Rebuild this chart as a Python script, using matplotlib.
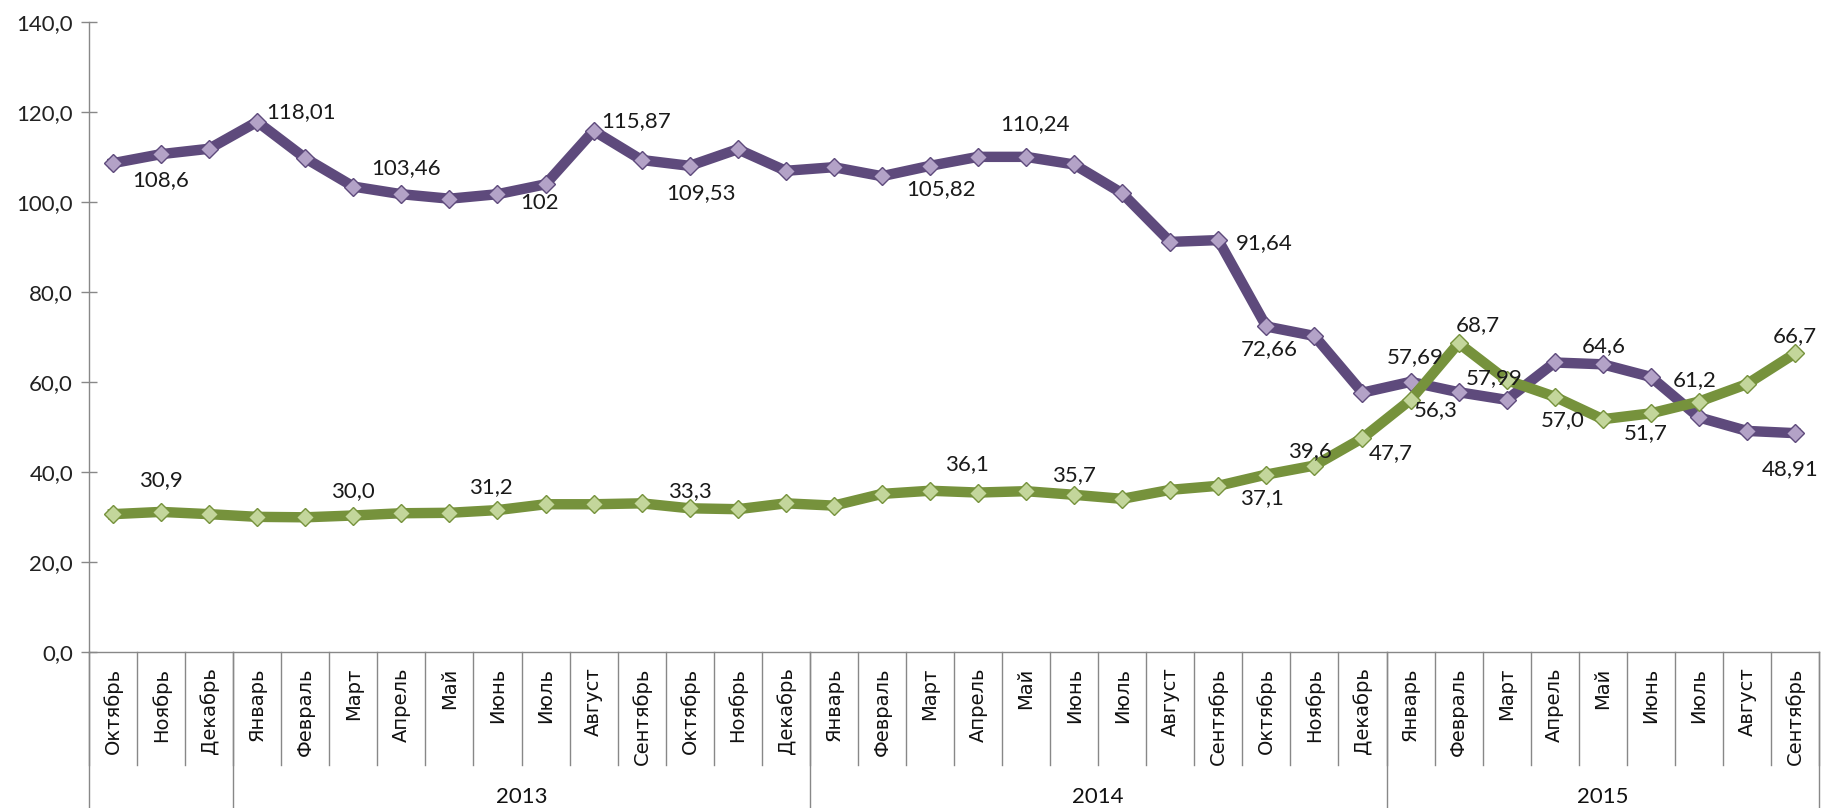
import matplotlib
matplotlib.use("Agg")
import matplotlib.pyplot as plt
import matplotlib.transforms as mtransforms

# months: Oct 2012 .. Sep 2015
months = ["Октябрь", "Ноябрь", "Декабрь",
          "Январь", "Февраль", "Март", "Апрель", "Май", "Июнь", "Июль",
          "Август", "Сентябрь", "Октябрь", "Ноябрь", "Декабрь",
          "Январь", "Февраль", "Март", "Апрель", "Май", "Июнь", "Июль",
          "Август", "Сентябрь", "Октябрь", "Ноябрь", "Декабрь",
          "Январь", "Февраль", "Март", "Апрель", "Май", "Июнь", "Июль",
          "Август", "Сентябрь"]
years = ["", "2013", "2014", "2015"]
year_sizes = [3, 12, 12, 9]

purple = [108.7, 110.7, 111.9, 117.9, 109.8, 103.5, 101.8, 100.8, 101.8, 104.0,
          115.9, 109.4, 108.1, 111.8, 107.0, 107.8, 105.8, 108.1, 110.1, 110.1,
          108.4, 102.0, 91.2, 91.6, 72.4, 70.3, 57.7, 60.1, 57.8, 56.1,
          64.4, 64.0, 61.2, 52.2, 49.2, 48.7]
green = [30.7, 31.2, 30.7, 30.1, 30.0, 30.4, 30.9, 31.0, 31.6, 32.9,
         32.9, 33.1, 32.0, 31.8, 33.1, 32.6, 35.2, 35.9, 35.5, 35.8,
         35.0, 34.1, 36.1, 37.0, 39.5, 41.5, 47.6, 56.1, 68.7, 60.5,
         56.8, 51.8, 53.1, 55.7, 59.6, 66.4]

purple_lbl_idx = [1, 3, 6, 9, 10, 12, 17, 19, 23, 24, 27, 28, 31, 35]
purple_lbl_txt = ["108,6", "118,01", "103,46", "102", "115,87", "109,53", "105,82",
                  "110,24", "91,64", "72,66", "57,69", "57,99", "64,6", "48,91"]
green_lbl_idx = [1, 5, 8, 12, 18, 20, 24, 25, 26, 27, 28, 30, 32, 33, 35]
green_lbl_txt = ["30,9", "30,0", "31,2", "33,3", "36,1", "35,7", "37,1", "39,6",
                 "47,7", "56,3", "68,7", "57,0", "51,7", "61,2", "66,7"]

# label offsets in pixels (dx, dy up)
purple_off = [(0, -26), (44, 10), (5, 26), (-6, -19), (42, 10), (11, -27), (11, -23),
              (9, 33), (46, -3), (3, -23), (5, 25), (36, 14), (1, 18), (-5, -36)]
green_off = [(0, 32), (0, 24), (-7, 23), (0, 17), (-11, 28), (0, 20), (-4, -24),
             (-4, 14), (28, -15), (25, -10), (19, 18), (8, -23), (-5, -20), (-4, 22), (0, 17)]

fig = plt.figure(figsize=(18.3, 8.08), dpi=100)
ax = fig.add_axes([89 / 1830, 155.7 / 808, 1730 / 1830, 630 / 808])

x = list(range(len(months)))
ax.plot(x, purple, color="#5E4A7C", lw=7.5, marker="D", ms=9.5,
        mfc="#B3A2C7", mec="#5E4A7C", mew=1, zorder=3)
ax.plot(x, green, color="#76923C", lw=7.5, marker="D", ms=9.5,
        mfc="#C3D69B", mec="#76923C", mew=1, zorder=4)

px = 0.72
for i, t, (dx, dy) in zip(purple_lbl_idx, purple_lbl_txt, purple_off):
    ax.annotate(t, (i, purple[i]), xytext=(dx * px, dy * px), textcoords="offset points",
                ha="center", va="center", fontsize=16, family="Lato", color="#1a1a1a", zorder=6)
for i, t, (dx, dy) in zip(green_lbl_idx, green_lbl_txt, green_off):
    ax.annotate(t, (i, green[i]), xytext=(dx * px, dy * px), textcoords="offset points",
                ha="center", va="center", fontsize=16, family="Lato", color="#1a1a1a", zorder=6)

ax.set_xlim(-0.5, len(months) - 0.5)
ax.set_ylim(0, 140)
ax.set_yticks(range(0, 141, 20))
ax.set_yticklabels([f"{v},0" for v in range(0, 141, 20)], fontsize=16, family="Lato", color="#222222")
ax.tick_params(axis="y", direction="inout", length=11, width=1, color="#888888", pad=6)

ax.set_xticks(x)
ax.set_xticklabels(months, rotation=90, fontsize=14, family="DejaVu Sans", color="#111111")
ax.tick_params(axis="x", length=0, pad=11)

for s in ["top", "right"]:
    ax.spines[s].set_visible(False)
for s in ["left", "bottom"]:
    ax.spines[s].set_color("#888888")
    ax.spines[s].set_linewidth(1)

# category separators below the axis
trans = mtransforms.blended_transform_factory(ax.transData, ax.transAxes)
for k in range(len(months) + 1):
    ax.plot([k - 0.5, k - 0.5], [0, -0.179], color="#888888", lw=1, transform=trans, clip_on=False)

# year group separators and labels
start = 0
bounds = [-0.5]
for y, n in zip(years, year_sizes):
    end = start + n
    bounds.append(end - 0.5)
    if y:
        ax.text((start + end - 1) / 2, -0.2297, y, transform=trans, ha="center", va="center",
                fontsize=16, family="Lato", color="#111111")
    start = end
for b in bounds:
    ax.plot([b, b], [0, -0.26], color="#888888", lw=1, transform=trans, clip_on=False)

fig.savefig("out.png", dpi=100)
